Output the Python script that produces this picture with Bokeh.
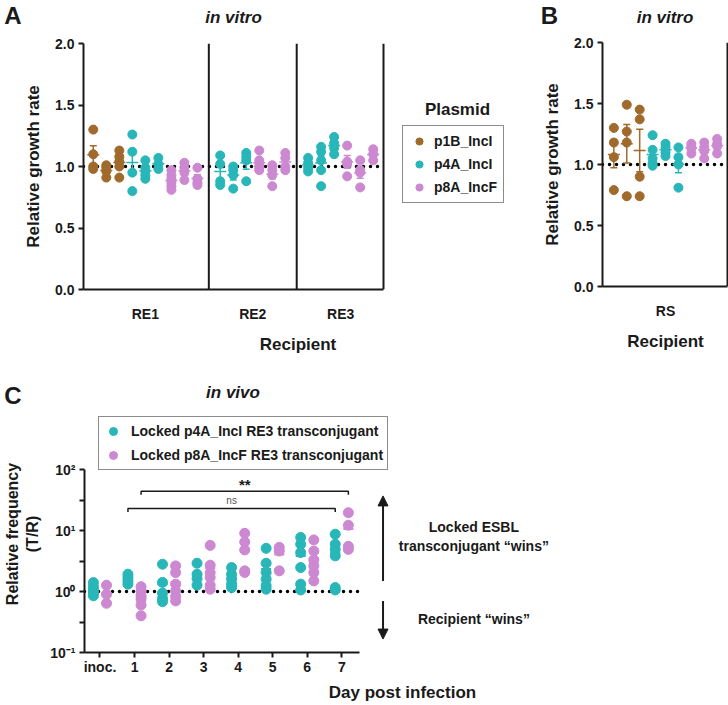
import numpy as np
from bokeh.plotting import figure
from bokeh.models import (Range1d, FixedTicker, Span, Label, Legend, LegendItem,
                          Arrow, NormalHead, NumeralTickFormatter)
from bokeh.layouts import column, row
from bokeh.embed import file_html
from bokeh.resources import INLINE

FONT = "Liberation Sans"
INK = "#1a1a1a"

# ---------------- data ----------------
plasmids = ["p1B_IncI", "p4A_IncI", "p8A_IncF"]
plasmid_colors = ["#A06A2C", "#28B6B9", "#CC88D0"]

# Panel A (in vitro, recipients RE1-RE3)
a_recipients = ["RE1", "RE2", "RE3"]
a_group_recipient = ["RE1"] * 9 + ["RE2"] * 6 + ["RE3"] * 6
a_group_plasmid = (["p1B_IncI"] * 3 + ["p4A_IncI"] * 3 + ["p8A_IncF"] * 3
                   + ["p4A_IncI"] * 3 + ["p8A_IncF"] * 3
                   + ["p4A_IncI"] * 3 + ["p8A_IncF"] * 3)
a_group_values = [
    [1.30, 1.10, 1.00, 0.98],
    [1.01, 0.99, 0.96, 0.91],
    [1.13, 1.08, 1.04, 1.00, 0.91],
    [1.26, 1.12, 0.95, 0.80],
    [1.05, 0.99, 0.96, 0.93, 0.90],
    [1.07, 1.02, 0.98],
    [0.97, 0.93, 0.90, 0.87, 0.84, 0.81],
    [1.03, 0.99, 0.95, 0.89],
    [0.99, 0.90, 0.87, 0.85],
    [1.09, 1.02, 0.88, 0.85],
    [1.00, 0.97, 0.93, 0.82],
    [1.11, 1.08, 1.05, 0.88],
    [1.13, 1.05, 1.01, 0.99, 0.97],
    [1.01, 0.97, 0.93, 0.84],
    [1.11, 1.07, 1.00, 0.97],
    [1.07, 1.03, 0.99, 0.96],
    [1.16, 1.12, 1.05, 0.97, 0.84],
    [1.24, 1.19, 1.15, 1.10],
    [1.17, 1.04, 1.02, 0.92],
    [1.05, 0.97, 0.95, 0.83],
    [1.14, 1.10, 1.05],
]

# Panel B (in vitro, recipient RS)
b_recipient = "RS"
b_group_plasmid = ["p1B_IncI"] * 3 + ["p4A_IncI"] * 3 + ["p8A_IncF"] * 3
b_group_values = [
    [1.30, 1.18, 1.06, 0.79],
    [1.49, 1.27, 1.18, 0.74],
    [1.45, 1.37, 0.90, 0.74],
    [1.24, 1.12, 1.05, 1.01, 0.99],
    [1.17, 1.14, 1.10, 1.07],
    [1.14, 1.06, 1.00, 0.81],
    [1.17, 1.15, 1.13, 1.09],
    [1.18, 1.14, 1.11, 1.05],
    [1.21, 1.17, 1.15, 1.09],
]

# Panel C (in vivo)
c_days = ["inoc.", "1", "2", "3", "4", "5", "6", "7"]
c_series = ["Locked p4A_IncI RE3 transconjugant", "Locked p8A_IncF RE3 transconjugant"]
c_series_colors = ["#28B6B9", "#CC88D0"]
c_p4A = [
    [1.40, 1.20, 1.05, 0.95, 0.85],
    [1.92, 1.70, 1.50, 1.32],
    [2.80, 1.41, 0.94, 0.77, 0.68],
    [2.91, 1.92, 1.63, 1.27],
    [2.47, 1.92, 1.59, 1.32, 1.16],
    [5.10, 2.91, 2.05, 1.59, 1.25, 1.09],
    [7.70, 5.96, 4.35, 2.47, 1.32, 1.06],
    [8.70, 5.96, 4.90, 3.84, 1.16, 1.06],
]
c_p8A = [
    [1.27, 0.90, 0.64],
    [1.20, 1.02, 0.85, 0.75, 0.60, 0.40],
    [2.63, 2.04, 1.32, 1.02, 0.83, 0.70],
    [5.70, 2.70, 2.04, 1.70, 1.27, 1.09],
    [9.00, 6.50, 4.80, 2.18, 2.05],
    [5.30, 4.60, 2.18],
    [7.00, 4.60, 3.30, 2.63, 2.04, 1.49],
    [19.6, 12.2, 5.50, 4.90],
]
c_values = [c_p4A, c_p8A]
# statistical comparisons: (series index, from day, to day, label)
c_comparisons = [(1, "1", "7", "**"), (0, "1", "7", "ns")]

# ---------------- helpers ----------------

def make_fig(**kw):
    p = figure(output_backend="svg", toolbar_location=None, title=None, **kw)
    try:
        p.frame_align = False
    except Exception:
        pass
    p.xgrid.visible = False
    p.ygrid.visible = False
    p.outline_line_color = None
    p.background_fill_color = "white"
    p.border_fill_color = "white"
    return p


def text_strip(width, height):
    return make_fig(width=width, height=height, x_range=Range1d(0, width),
                    y_range=Range1d(0, height), x_axis_location=None,
                    y_axis_location=None, min_border=0)


def style_axis(ax, size="14px"):
    ax.axis_line_width = 2
    ax.axis_line_color = INK
    ax.major_tick_line_width = 2
    ax.major_tick_line_color = INK
    ax.major_tick_out = 5
    ax.major_tick_in = 0
    ax.minor_tick_line_color = None
    ax.major_label_text_font = FONT
    ax.major_label_text_font_style = "bold"
    ax.major_label_text_font_size = size
    ax.major_label_text_color = INK
    ax.axis_label_text_font = FONT
    ax.axis_label_text_font_style = "bold"
    ax.axis_label_text_font_size = "17px"
    ax.axis_label_text_color = INK


def add_label(p, x, y, text, size, style="bold", units="data", align="center",
              baseline="middle", color=INK):
    p.add_layout(Label(x=x, y=y, x_units=units, y_units=units, text=text,
                       text_font=FONT, text_font_style=style, text_font_size=size,
                       text_align=align, text_baseline=baseline, text_color=color))


def group_positions(group_sections, gap):
    xs, pos, prev = [], 0.0, None
    for s in group_sections:
        if prev is not None:
            pos += 1.0 if s == prev else gap
        xs.append(pos)
        prev = s
    return xs


def add_groups(p, xs, plasmid_list, values_list, size=9):
    rends = {}
    for pl, col in zip(plasmids, plasmid_colors):
        idx = [i for i, g in enumerate(plasmid_list) if g == pl]
        if not idx:
            continue
        px, py, mx, mm, lo, hi = [], [], [], [], [], []
        for i in idx:
            v = np.array(values_list[i], dtype=float)
            px += [xs[i]] * len(v)
            py += list(v)
            m = v.mean()
            se = v.std(ddof=1) / np.sqrt(len(v))
            mx.append(xs[i]); mm.append(m); lo.append(m - se); hi.append(m + se)
        p.segment(x0=mx, y0=lo, x1=mx, y1=hi, line_color=col, line_width=1.5)
        p.scatter(x=mx + mx, y=lo + hi, marker="dash", size=7, line_color=col, line_width=1.5)
        r = p.scatter(x=px, y=py, size=size, fill_color=col, line_color=col)
        p.scatter(x=mx, y=mm, marker="dash", size=12, line_color=col, line_width=1.5)
        rends[pl] = r
    return rends


def dotted_one(p, x0, x1):
    p.line(x=[x0, x1], y=[1, 1], line_color="black", line_width=3.5,
           line_dash="0 7", line_cap="round", level="underlay")


def growth_y_axis(p):
    style_axis(p.yaxis[0])
    p.yaxis.ticker = FixedTicker(ticks=[0, 0.5, 1.0, 1.5, 2.0])
    p.yaxis.formatter = NumeralTickFormatter(format="0.0")
    p.yaxis.major_label_standoff = 4
    p.yaxis.axis_label = "Relative growth rate"
    p.yaxis.axis_label_standoff = 9


def recipient_x_axis(p, centers, names, bounds):
    style_axis(p.xaxis[0])
    p.xaxis.bounds = bounds
    p.xaxis.ticker = FixedTicker(ticks=centers)
    p.xaxis.major_label_overrides = {c: n for c, n in zip(centers, names)}
    p.xaxis.major_tick_out = 0
    p.xaxis.major_tick_line_color = None
    p.xaxis.major_label_standoff = 16
    p.xaxis.axis_label = "Recipient"
    p.xaxis.axis_label_standoff = 10


# ---------------- top strip: panel letters and titles ----------------
tTop = text_strip(728, 34)
add_label(tTop, 12.5, 19.5, "A", "24px")
add_label(tTop, 233, 17.5, "in vitro", "17px", style="bold italic")
add_label(tTop, 549, 19.5, "B", "24px")
add_label(tTop, 664.5, 17.5, "in vitro", "17px", style="bold italic")

# ---------------- Panel A ----------------
a_x = group_positions(a_group_recipient, 1.75)
a_lo, a_end = a_x[0] - 0.75, a_x[-1] + 0.79
a_px = 300.0 / (a_end - a_lo)          # pixels per group step
a_hi = a_lo + 429.0 / a_px             # frame also holds the legend
pA = make_fig(width=520, height=326, x_range=Range1d(a_lo, a_hi), y_range=Range1d(0, 2.0),
              min_border_left=83, min_border_right=8, min_border_top=9, min_border_bottom=71)
dotted_one(pA, a_lo, a_end)
for k in range(1, len(a_x)):
    if a_group_recipient[k] != a_group_recipient[k - 1]:
        pA.add_layout(Span(location=(a_x[k] + a_x[k - 1]) / 2, dimension="height",
                           line_color=INK, line_width=2))
pA.add_layout(Span(location=a_end, dimension="height", line_color=INK, line_width=2))
rA = add_groups(pA, a_x, a_group_plasmid, a_group_values)
a_centers = []
for rname in a_recipients:
    xs = [x for x, g in zip(a_x, a_group_recipient) if g == rname]
    a_centers.append((xs[0] + xs[-1]) / 2)
recipient_x_axis(pA, a_centers, a_recipients, (a_lo, a_end))
growth_y_axis(pA)
legA = Legend(items=[LegendItem(label=pl, renderers=[rA[pl]]) for pl in plasmids],
              location=(319, 86), border_line_color=INK, border_line_width=1.5,
              background_fill_color="white", padding=6, spacing=5, margin=0,
              label_standoff=5, glyph_width=20, glyph_height=18, label_height=18,
              label_text_font=FONT, label_text_font_style="bold",
              label_text_font_size="14px", label_text_color=INK)
pA.add_layout(legA)
add_label(pA, 374, 180, "Plasmid", "17px", units="screen")

# ---------------- Panel B ----------------
b_x = [float(i) for i in range(len(b_group_values))]
b_lo, b_end = b_x[0] - 0.88, b_x[-1] + 0.8
b_px = 125.0 / (b_end - b_lo)
b_hi = b_lo + 126.0 / b_px
pB = make_fig(width=208, height=326, x_range=Range1d(b_lo, b_hi), y_range=Range1d(0, 2.0),
              min_border_left=82, min_border_right=0, min_border_top=8, min_border_bottom=74)
dotted_one(pB, b_lo, b_end)
pB.add_layout(Span(location=b_end, dimension="height", line_color=INK, line_width=2))
add_groups(pB, b_x, b_group_plasmid, b_group_values)
recipient_x_axis(pB, [(b_x[0] + b_x[-1]) / 2], [b_recipient], (b_lo, b_end))
growth_y_axis(pB)

# ---------------- strip above panel C ----------------
tC = text_strip(728, 51)
add_label(tC, 12.5, 16, "C", "24px")
add_label(tC, 232.5, 19.3, "in vivo", "17px", style="bold italic")

# ---------------- Panel C ----------------
c_px = 34.6                      # pixels per day
c_dec = 61.0                     # pixels per decade
c_lo, c_end = (83 - 98.5) / c_px, (358.3 - 98.5) / c_px
c_hi = c_lo + 637.0 / c_px       # frame also holds the side annotations
c_top = 10 ** (2 + 54.0 / c_dec)  # room above 10^2 for the legend
pC = make_fig(width=728, height=293, x_range=Range1d(c_lo, c_hi),
              y_range=Range1d(0.1, c_top), y_axis_type="log",
              min_border_left=83, min_border_right=8, min_border_top=4,
              min_border_bottom=52)
dotted_one(pC, c_lo, c_end)
offsets = [-0.19, 0.19]
rC = []
for si, (vals, col) in enumerate(zip(c_values, c_series_colors)):
    px, py, mx, mm = [], [], [], []
    for d, v in enumerate(vals):
        px += [d + offsets[si]] * len(v)
        py += list(v)
        mx.append(d + offsets[si]); mm.append(float(np.mean(v)))
    r = pC.scatter(x=px, y=py, size=10, fill_color=col, line_color=col)
    pC.scatter(x=mx, y=mm, marker="dash", size=10, line_color=col, line_width=2)
    rC.append(r)

bracket_y = [44.0, 23.0]
for (si, d0, d1, txt), by in zip(c_comparisons, bracket_y):
    x0 = c_days.index(d0) + offsets[si]
    x1 = c_days.index(d1) + offsets[si]
    ty = by / 1.14
    pC.line(x=[x0, x0, x1, x1], y=[ty, by, by, ty], line_color=INK, line_width=1.5)
    if txt == "ns":
        pC.add_layout(Label(x=(x0 + x1) / 2, y=by, text=txt, text_font=FONT,
                            text_font_size="10px", text_color="#555555",
                            text_align="center", text_baseline="bottom", y_offset=2))
    else:
        pC.add_layout(Label(x=(x0 + x1) / 2, y=by, text=txt, text_font=FONT,
                            text_font_style="bold", text_font_size="15px", text_color=INK,
                            text_align="center", text_baseline="bottom", y_offset=-2))

style_axis(pC.xaxis[0])
pC.xaxis.bounds = (c_lo, c_end)
pC.xaxis.ticker = FixedTicker(ticks=list(range(len(c_days))))
pC.xaxis.major_label_overrides = {i: d for i, d in enumerate(c_days)}
pC.xaxis.major_label_standoff = 1
pC.xaxis.axis_label = "Day post infection"
pC.xaxis.axis_label_standoff = 5
style_axis(pC.yaxis[0])
pC.yaxis.bounds = (0.1, 100)
pC.yaxis.ticker = FixedTicker(ticks=[0.1, 1, 10, 100],
                              minor_ticks=[10 ** -0.5, 10 ** 0.5, 10 ** 1.5])
pC.yaxis.major_label_overrides = {0.1: "10\u207b\u00b9", 1: "10\u2070", 10: "10\u00b9",
                                  100: "10\u00b2"}
pC.yaxis.minor_tick_line_color = INK
pC.yaxis.minor_tick_line_width = 2
pC.yaxis.minor_tick_out = 5
pC.yaxis.minor_tick_in = 0
pC.yaxis.major_label_standoff = 4
pC.yaxis.axis_label = "Relative frequency\n(T/R)"
pC.yaxis.axis_label_standoff = 6
pC.yaxis.axis_label_text_font_size = "16px"

legC = Legend(items=[LegendItem(label=s, renderers=[r]) for s, r in zip(c_series, rC)],
              location=(14, 182), border_line_color=INK, border_line_width=1.5,
              background_fill_color="white", padding=4, spacing=4, margin=0,
              label_standoff=8, glyph_width=20, glyph_height=20, label_height=20,
              label_text_font=FONT, label_text_font_style="bold",
              label_text_font_size="14px", label_text_color=INK)
pC.add_layout(legC)

arrow_x = (382 - 98.5) / c_px
pC.add_layout(Arrow(end=NormalHead(size=10, fill_color=INK, line_color=INK),
                    x_start=arrow_x, y_start=1.49, x_end=arrow_x, y_end=36.9,
                    line_color=INK, line_width=2))
pC.add_layout(Arrow(end=NormalHead(size=10, fill_color=INK, line_color=INK),
                    x_start=arrow_x, y_start=0.70, x_end=arrow_x, y_end=0.166,
                    line_color=INK, line_width=2))
text_x = (473 - 98.5) / c_px
add_label(pC, text_x, 11.3, "Locked ESBL", "14px")
add_label(pC, text_x, 5.53, "transconjugant \u201cwins\u201d", "14px")
add_label(pC, text_x, 0.351, "Recipient \u201cwins\u201d", "14px")

layout = column(tTop, row(pA, pB), tC, pC)
open("out.html", "w").write(file_html(layout, INLINE))
